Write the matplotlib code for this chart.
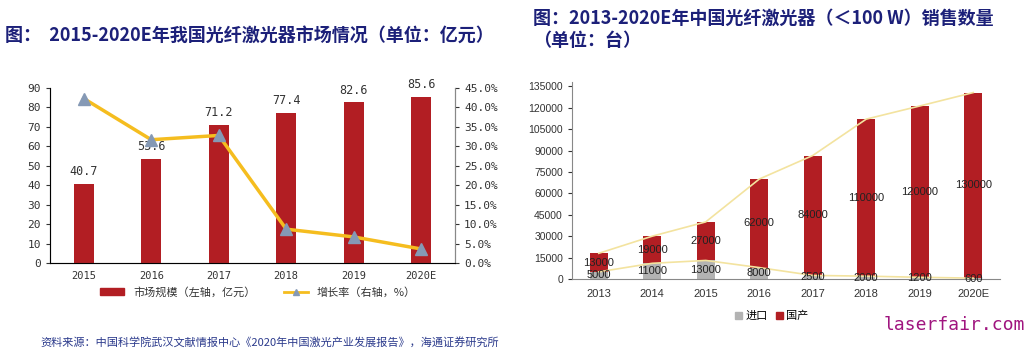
import matplotlib
matplotlib.use("Agg")
import matplotlib.pyplot as plt
from matplotlib.ticker import FuncFormatter, MultipleLocator
from matplotlib.lines import Line2D
from matplotlib.patches import Patch

plt.rcParams['font.family'] = ['Noto Sans CJK SC', 'DejaVu Sans']

# left chart: market size + growth
years_l = ["2015", "2016", "2017", "2018", "2019", "2020E"]
market = [40.7, 53.6, 71.2, 77.4, 82.6, 85.6]
growth = [0.423, 0.317, 0.328, 0.087, 0.067, 0.036]

# right chart: <100W sales volume
years_r = ["2013", "2014", "2015", "2016", "2017", "2018", "2019", "2020E"]
imports = [5000, 11000, 13000, 8000, 2500, 2000, 1200, 600]
domestic = [13000, 19000, 27000, 62000, 84000, 110000, 120000, 130000]

navy = "#1c2079"
red = "#b21e23"
txt = "#333333"

fig = plt.figure(figsize=(10.31, 3.57), dpi=100)

# titles
fig.text(5 / 1031, 1 - 35 / 357, "图：  2015-2020E年我国光纤激光器市场情况（单位：亿元）",
         fontsize=13, fontweight="bold", color=navy, va="center")
fig.text(533 / 1031, 1 - 18 / 357, "图：2013-2020E年中国光纤激光器（＜100 W）销售数量",
         fontsize=13, fontweight="bold", color=navy, va="center")
fig.text(533 / 1031, 1 - 41 / 357, "（单位：台）",
         fontsize=13, fontweight="bold", color=navy, va="center")

# ---- left chart
ax = fig.add_axes([50 / 1031, 1 - 263 / 357, 405 / 1031, 175 / 357])
x = range(len(years_l))
ax.bar(x, market, width=0.3, color=red, zorder=2)
for i, v in enumerate(market):
    ax.text(i, v + 3, f"{v:.1f}", ha="center", va="bottom", fontsize=8.5,
            family="DejaVu Sans Mono", color=txt)
ax.set_xlim(-0.5, 5.5)
ax.set_ylim(0, 90)
ax.yaxis.set_major_locator(MultipleLocator(10))
ax.set_xticks(list(x))
ax.set_xticklabels(years_l)
ax.tick_params(axis="x", length=0, labelsize=7.5, colors=txt, pad=6)
ax.tick_params(axis="y", length=3, labelsize=8, colors=txt)
for lab in ax.get_yticklabels() + ax.get_xticklabels():
    lab.set_family("DejaVu Sans Mono")
ax.spines["top"].set_visible(False)
for s in ["left", "right", "bottom"]:
    ax.spines[s].set_color("#888888")

ax2 = ax.twinx()
ax2.plot(list(x), growth, color="#f5bd1f", lw=2.5, marker="^", markersize=8,
         markerfacecolor="#8599b5", markeredgecolor="#8599b5", zorder=3)
ax2.set_ylim(0, 0.45)
ax2.yaxis.set_major_locator(MultipleLocator(0.05))
ax2.yaxis.set_major_formatter(FuncFormatter(lambda v, p: f"{v * 100:.1f}%"))
ax2.tick_params(axis="y", length=3, labelsize=8, colors=txt)
for lab in ax2.get_yticklabels():
    lab.set_family("DejaVu Sans Mono")
ax2.spines["top"].set_visible(False)
ax2.spines["right"].set_color("#888888")

handles = [Patch(color=red),
           Line2D([], [], color="#f5bd1f", lw=2, marker="^", markersize=5,
                  markerfacecolor="#8599b5", markeredgecolor="#8599b5")]
fig.legend(handles, ["市场规模（左轴，亿元）", "增长率（右轴，%）"],
           loc="center", bbox_to_anchor=(258 / 1031, 1 - 292 / 357), ncol=2,
           frameon=False, fontsize=8, handlelength=2.2, handleheight=0.6,
           columnspacing=2.5, labelcolor=txt)

# ---- right chart
bx = fig.add_axes([572 / 1031, 1 - 279 / 357, 428 / 1031, 197 / 357])
xr = list(range(len(years_r)))
totals = [a + b for a, b in zip(imports, domestic)]
bx.bar(xr, imports, width=0.33, color="#b3b3b3", zorder=2)
bx.bar(xr, domestic, width=0.33, bottom=imports, color=red, zorder=2)
bx.plot(xr, imports, color="#f3e39f", lw=1.2, zorder=3)
bx.plot(xr, totals, color="#f3e39f", lw=1.2, zorder=3)
for i in xr:
    bx.text(i, imports[i] + domestic[i] / 2, str(domestic[i]), ha="center", va="center",
            fontsize=8, family="Liberation Sans", color="#222222", zorder=4)
    bx.text(i, imports[i] / 2, str(imports[i]), ha="center", va="center",
            fontsize=8, family="Liberation Sans", color="#222222", zorder=4)
bx.set_xlim(-0.5, 7.5)
bx.set_ylim(0, 138000)
bx.set_yticks(range(0, 135001, 15000))
bx.set_xticks(xr)
bx.set_xticklabels(years_r)
bx.tick_params(axis="x", length=0, labelsize=8, colors=txt, pad=7)
bx.tick_params(axis="y", length=3, labelsize=7.5, colors=txt)
for lab in bx.get_yticklabels() + bx.get_xticklabels():
    lab.set_family("Liberation Sans")
bx.spines["top"].set_visible(False)
bx.spines["right"].set_visible(False)
bx.spines["left"].set_color("#888888")
bx.spines["bottom"].set_color("#888888")

fig.legend([Patch(color="#b3b3b3"), Patch(color=red)], ["进口", "国产"],
           loc="center", bbox_to_anchor=(772 / 1031, 1 - 316 / 357), ncol=2,
           frameon=False, fontsize=8, handlelength=0.6, handleheight=0.6,
           handletextpad=0.3, columnspacing=0.8)

fig.text(1025 / 1031, 1 - 325 / 357, "laserfair.com", ha="right", va="center",
         fontsize=13, family="DejaVu Sans Mono", color="#a0157f")

fig.text(40 / 1031, 1 - 343 / 357,
         "资料来源：中国科学院武汉文献情报中心《2020年中国激光产业发展报告》，海通证券研究所",
         fontsize=8, color="#2b3a8c", va="center")

fig.savefig("out.png", dpi=100, facecolor="white")
